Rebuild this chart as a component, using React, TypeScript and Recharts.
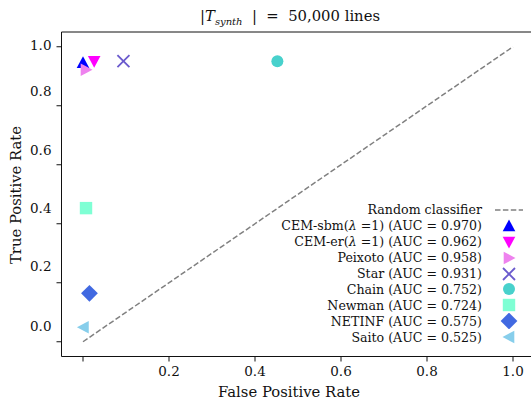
import React from 'react';
import { ScatterChart, Scatter, XAxis, YAxis, ReferenceLine, Legend } from 'recharts';

// ROC points (one point per method)
const methodNames = ['CEM-sbm', 'CEM-er', 'Peixoto', 'Star', 'Chain', 'Newman', 'NETINF', 'Saito'];
const lambdaSuffix = [true, true, false, false, false, false, false, false];
const aucValues = [0.970, 0.962, 0.958, 0.931, 0.752, 0.724, 0.575, 0.525];
const fprValues = [0.0, 0.026, 0.007, 0.094, 0.452, 0.007, 0.015, 0.001];
const tprValues = [0.946, 0.951, 0.922, 0.951, 0.951, 0.453, 0.164, 0.049];

const diagX = [0, 1];
const diagY = [0, 1];

const xTicks = [0, 0.2, 0.4, 0.6, 0.8, 1.0];
const xTickLabels = ['', '0.2', '0.4', '0.6', '0.8', '1.0'];
const yTicks = [0, 0.2, 0.4, 0.6, 0.8, 1.0];
const yTickLabels = ['0.0', '0.2', '0.4', '0.6', '0.8', '1.0'];

// styling
const markerKinds = ['up', 'down', 'right', 'x', 'circle', 'square', 'diamond', 'left'];
const colors = ['#0000ff', '#ff00ff', '#ee82ee', '#6a5acd', '#48d1cc', '#7fffd4', '#4169e1', '#87ceeb'];
const yLabelShift = [-15, -16, -15.5, -14.7, -14, -1.7];

const FONT = 'DejaVu Serif';
const FS = 13.5;
const INK = '#111';

const drawMarker = (kind: string, cx: number, cy: number, color: string) => {
    switch (kind) {
        case 'up':
            return <polygon points={`${cx},${cy - 6.5} ${cx - 6.3},${cy + 5.3} ${cx + 6.3},${cy + 5.3}`} fill={color} />;
        case 'down':
            return <polygon points={`${cx},${cy + 6.5} ${cx - 6.3},${cy - 5.3} ${cx + 6.3},${cy - 5.3}`} fill={color} />;
        case 'right':
            return <polygon points={`${cx + 6.5},${cy} ${cx - 5.3},${cy - 6.3} ${cx - 5.3},${cy + 6.3}`} fill={color} />;
        case 'left':
            return <polygon points={`${cx - 6.5},${cy} ${cx + 5.3},${cy - 6.3} ${cx + 5.3},${cy + 6.3}`} fill={color} />;
        case 'x':
            return (
                <g stroke={color} strokeWidth={1.8}>
                    <line x1={cx - 6} y1={cy - 6} x2={cx + 6} y2={cy + 6} />
                    <line x1={cx - 6} y1={cy + 6} x2={cx + 6} y2={cy - 6} />
                </g>
            );
        case 'circle':
            return <circle cx={cx} cy={cy} r={6} fill={color} />;
        case 'square':
            return <rect x={cx - 6.2} y={cy - 6.2} width={12.4} height={12.4} fill={color} />;
        case 'diamond':
            return <polygon points={`${cx},${cy - 8.4} ${cx + 8.4},${cy} ${cx},${cy + 8.4} ${cx - 8.4},${cy}`} fill={color} />;
        default:
            return null;
    }
};

const YTick = (props: any) => {
    const { x, y, payload } = props;
    const i = yTicks.indexOf(payload.value);
    return (
        <text x={x} y={y + yLabelShift[i]} dy="0.35em" textAnchor="end" fontFamily={FONT} fontSize={FS} fill={INK}>
            {yTickLabels[i]}
        </text>
    );
};

const LegendRow: React.FC<{ children: React.ReactNode; icon: React.ReactNode }> = ({ children, icon }) => (
    <div style={{ display: 'flex', justifyContent: 'flex-end', alignItems: 'center', height: 15.9 }}>
        <span style={{ whiteSpace: 'nowrap' }}>{children}</span>
        <svg width={28} height={16} style={{ marginLeft: 13, flex: 'none' }}>{icon}</svg>
    </div>
);

const LegendBox = () => (
    <div style={{ fontFamily: FONT, fontSize: 12.6, color: INK }}>
        <LegendRow icon={<line x1={0} y1={8} x2={28} y2={8} stroke="#808080" strokeWidth={1.5} strokeDasharray="5.5 2.4" />}>
            Random classifier
        </LegendRow>
        {methodNames.map((name, i) => (
            <LegendRow key={name} icon={drawMarker(markerKinds[i], 14, 8, colors[i])}>
                {name}
                {lambdaSuffix[i] && <>(<i>λ</i> =1)</>} (AUC = {aucValues[i].toFixed(3)})
            </LegendRow>
        ))}
    </div>
);

const App: React.FC = () => {
    return (
        <div style={{ position: 'absolute', left: 0, top: 0, width: 531, height: 401, overflow: 'hidden', background: '#fff', fontFamily: FONT, color: INK }}>
            <div style={{ position: 'absolute', left: 140, width: 300, top: 6, textAlign: 'center', fontSize: 14.8, lineHeight: '20px', whiteSpace: 'nowrap' }}>
                |<i>T</i><sub style={{ fontSize: 10, fontStyle: 'italic' }}>synth</sub>&nbsp;&nbsp;| &nbsp;=&nbsp; 50,000 lines
            </div>
            <div style={{ position: 'absolute', left: 139, width: 300, top: 382, textAlign: 'center', fontSize: 14.8, lineHeight: '20px' }}>
                False Positive Rate
            </div>
            <div style={{ position: 'absolute', left: 16 - 100, width: 200, top: 195 - 10, textAlign: 'center', fontSize: 14.8, lineHeight: '20px', transform: 'rotate(-90deg)' }}>
                True Positive Rate
            </div>
            <div style={{ position: 'absolute', left: 0, top: 0 }}>
                <ScatterChart width={545} height={401} margin={{ top: 32, right: 10.5, bottom: 0, left: 0 }}>
                    <XAxis
                        type="number"
                        dataKey="x"
                        domain={[-0.05, 1.05]}
                        ticks={xTicks}
                        tickFormatter={(v: number) => xTickLabels[xTicks.indexOf(v)]}
                        height={44.5}
                        tickSize={5}
                        tickMargin={5}
                        allowDataOverflow
                        axisLine={{ stroke: INK, strokeWidth: 1 }}
                        tickLine={{ stroke: INK }}
                        tick={{ fontFamily: FONT, fontSize: FS, fill: INK }}
                    />
                    <YAxis
                        type="number"
                        dataKey="y"
                        domain={[-0.05, 1.05]}
                        ticks={yTicks}
                        width={61.5}
                        tickSize={5}
                        tickMargin={5}
                        allowDataOverflow
                        axisLine={{ stroke: INK, strokeWidth: 1 }}
                        tickLine={{ stroke: INK }}
                        tick={<YTick />}
                    />
                    <ReferenceLine y={1.05} stroke={INK} strokeWidth={1} />
                    <ReferenceLine
                        segment={[{ x: diagX[0], y: diagY[0] }, { x: diagX[1], y: diagY[1] }]}
                        stroke="#808080"
                        strokeWidth={1.5}
                        strokeDasharray="5.5 2.4"
                    />
                    {methodNames.map((name, i) => (
                        <Scatter
                            key={name}
                            name={name}
                            data={[{ x: fprValues[i], y: tprValues[i] }]}
                            isAnimationActive={false}
                            shape={(p: any) => drawMarker(markerKinds[i], p.cx, p.cy, colors[i])}
                        />
                    ))}
                    <Legend
                        layout="vertical"
                        align="center"
                        verticalAlign="middle"
                        wrapperStyle={{ left: 243, top: 202, width: 280 }}
                        content={() => <LegendBox />}
                    />
                </ScatterChart>
            </div>
        </div>
    );
};

export default App;
